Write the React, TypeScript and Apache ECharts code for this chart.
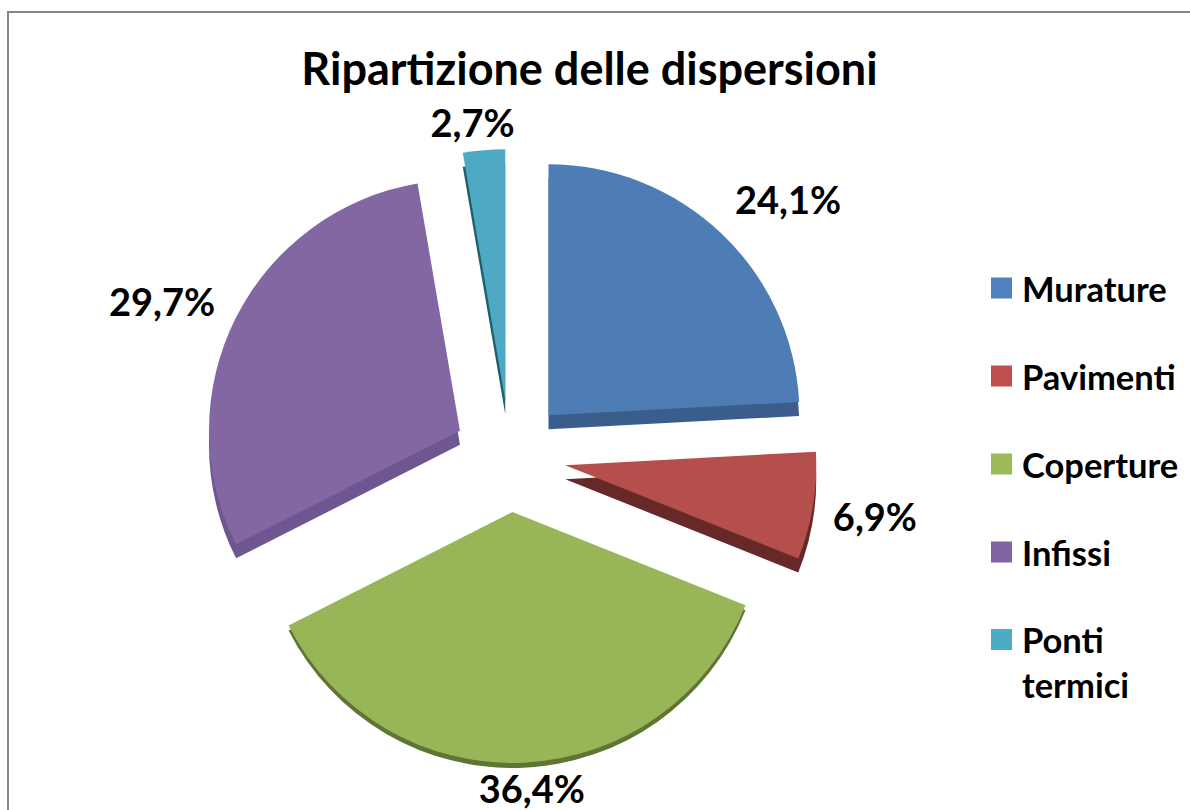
import React, { useEffect, useRef } from "react";
import * as echarts from "echarts";

const titleText = "Ripartizione delle dispersioni";
const categories = ["Murature", "Pavimenti", "Coperture", "Infissi", "Ponti termici"];
const values = [24.1, 6.9, 36.4, 29.7, 2.7];
const faceColors = ["#4e7db5", "#b54f4b", "#98b558", "#8267a3", "#4eaac4"];
const sideColors = ["#3a5d8c", "#662927", "#5f7534", "#6f5690", "#1f5f70"];
const legendColors = ["#4f81bd", "#c0504d", "#9bbb59", "#8064a2", "#4bacc6"];
const sideDepths = [14, 14, 5, 14, 14];
const labelShift: [number, number][] = [[11, -31], [16, 9], [-45, 21], [-17, -15], [31, -24]];

const FONT = "Lato";
const CX = 510;
const CY = 456;
const R = 251;
const OFFSET = 56;

const pieBase = {
  type: "pie",
  silent: true,
  radius: [0, R],
  startAngle: 90,
  clockwise: true,
  selectedMode: "multiple",
  selectedOffset: OFFSET,
};

const depthSeries = Array.from(new Set(sideDepths)).map((depth) => ({
  ...pieBase,
  z: 1,
  center: [CX, CY + depth],
  label: { show: false },
  labelLine: { show: false },
  data: categories.map((name, i) => ({
    name,
    value: values[i],
    selected: true,
    itemStyle: { color: sideDepths[i] === depth ? sideColors[i] : "rgba(0,0,0,0)" },
  })),
}));

const legendText = { fontFamily: FONT, fontWeight: "bold", fontSize: 34.5, lineHeight: 40, color: "#000", padding: [0, 0, 0, 5] };
const legendItem = (name: string) => {
  const i = categories.indexOf(name);
  return { name, itemStyle: { color: legendColors[i] } };
};

export default function App() {
  const ref = useRef<HTMLDivElement>(null);
  useEffect(() => {
    const chart = echarts.init(ref.current!, null, { renderer: "svg" });
    chart.setOption({
      animation: false,
      backgroundColor: "#ffffff",
      title: {
        text: titleText,
        left: 584.5,
        top: 40,
        textAlign: "center",
        textStyle: { fontFamily: FONT, fontWeight: "bold", fontSize: 45, color: "#000" },
      },
      legend: [
        {
          orient: "vertical",
          left: 986,
          top: 263,
          itemWidth: 21,
          itemHeight: 21,
          itemGap: 48,
          selectedMode: false,
          icon: "rect",
          data: categories.slice(0, 4).map(legendItem),
          textStyle: legendText,
        },
        {
          orient: "vertical",
          left: 986,
          top: 567,
          itemWidth: 21,
          itemHeight: 21,
          selectedMode: false,
          icon: "rect",
          data: categories.slice(4).map(legendItem),
          formatter: (n: string) => "\n" + n.replace(" ", "\n"),
          textStyle: { ...legendText, lineHeight: 45 },
        },
      ],
      graphic: [
        {
          type: "polyline",
          shape: { points: [[8, 810], [8, 12], [1190, 12]] },
          style: { stroke: "#868686", lineWidth: 2, fill: "none" },
        },
      ],
      series: [
        ...depthSeries,
        {
          ...pieBase,
          z: 2,
          center: [CX, CY],
          label: {
            show: true,
            position: "outside",
            distanceToLabelLine: 0,
            fontFamily: FONT,
            fontWeight: "bold",
            fontSize: 38,
            color: "#000",
            formatter: (p: any) => p.value.toFixed(1).replace(".", ",") + "%",
          },
          labelLine: { show: false, length: 4, length2: 0 },
          labelLayout: (p: any) => ({ dx: labelShift[p.dataIndex][0], dy: labelShift[p.dataIndex][1] }),
          data: categories.map((name, i) => ({
            name,
            value: values[i],
            selected: true,
            itemStyle: { color: faceColors[i] },
          })),
        },
      ],
    });
    return () => chart.dispose();
  }, []);
  return <div ref={ref} style={{ position: "fixed", left: 0, top: 0, width: 1190, height: 810 }} />;
}
